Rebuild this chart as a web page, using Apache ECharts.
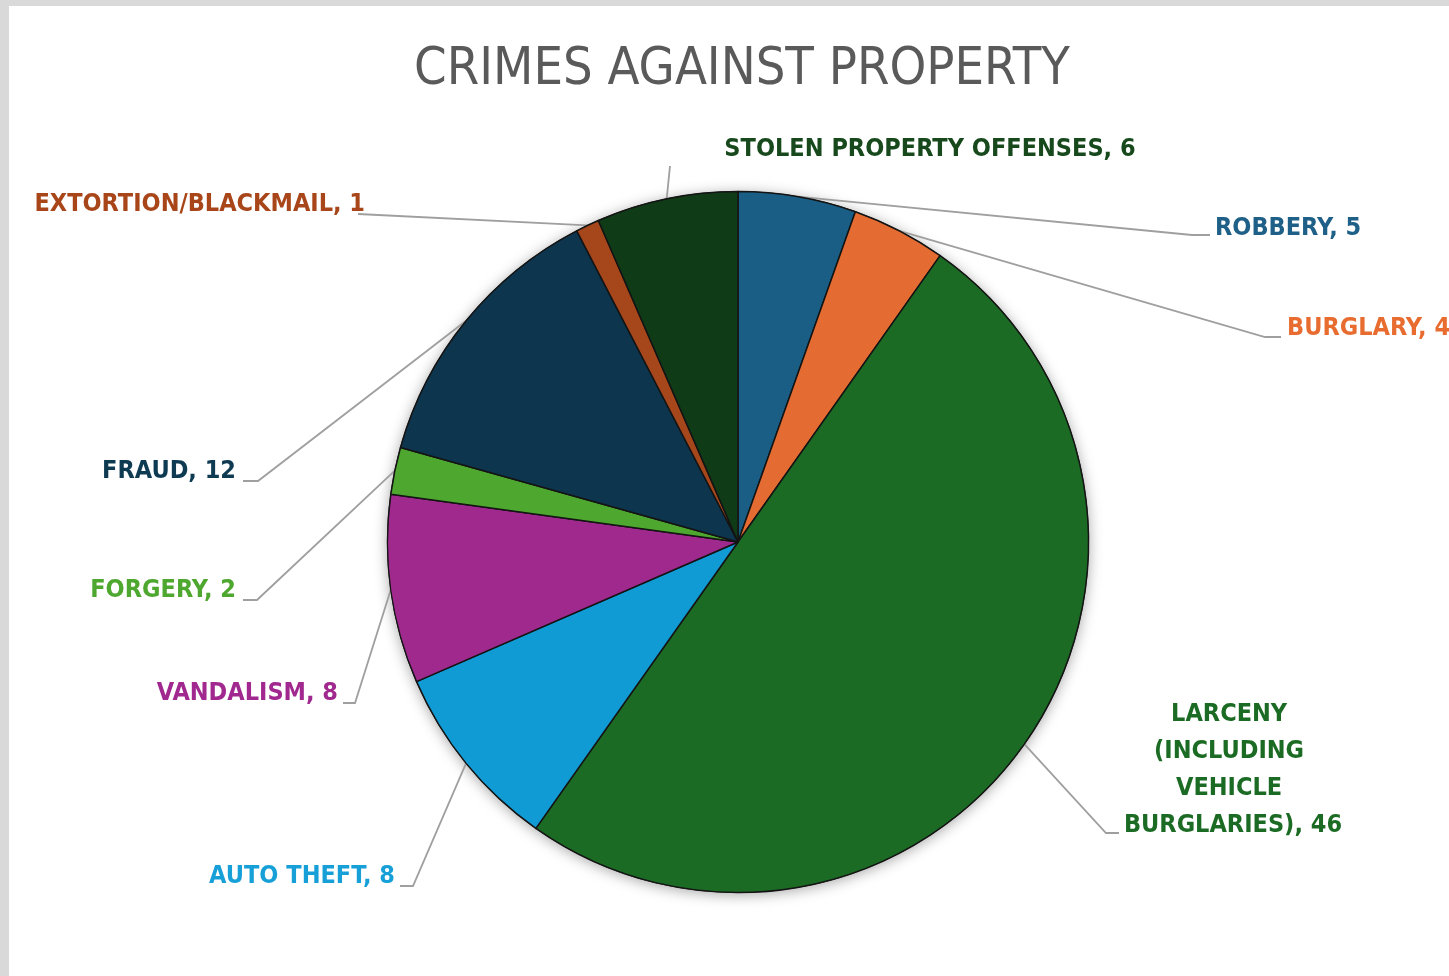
<!DOCTYPE html>
<html>
<head>
<meta charset="utf-8">
<script src="https://cdn.jsdelivr.net/npm/echarts@6/dist/echarts.min.js"></script>
<style>
  html, body { margin: 0; padding: 0; background: #ffffff; }
  #chart { position: absolute; left: 0; top: 0; width: 1449px; height: 976px; background: #ffffff; }
  .bar-top { position: absolute; left: 0; top: 0; width: 1449px; height: 6px; background: #d9d9d9; z-index: 5; }
  .bar-left { position: absolute; left: 0; top: 0; width: 9px; height: 976px; background: #d9d9d9; z-index: 5; }
</style>
</head>
<body>
<div id="chart"></div>
<div class="bar-top"></div>
<div class="bar-left"></div>
<script>
// ---- data ----
const categories = [
  'ROBBERY',
  'BURGLARY',
  'LARCENY (INCLUDING VEHICLE BURGLARIES)',
  'AUTO THEFT',
  'VANDALISM',
  'FORGERY',
  'FRAUD',
  'EXTORTION/BLACKMAIL',
  'STOLEN PROPERTY OFFENSES'
];
const values = [5, 4, 46, 8, 8, 2, 12, 1, 6];
const titleText = 'CRIMES AGAINST PROPERTY';

// ---- styles ----
const sliceColors = ['#1a5e85', '#e46c32', '#1c6b24', '#119bd4', '#a0298e', '#4ea72e', '#0d354e', '#a5461b', '#0f3b17'];
const labelColors = ['#1f6088', '#e86c30', '#1c6b24', '#17a0d8', '#a0288e', '#4ea72e', '#0e3a52', '#a8461a', '#17491d'];

// label placement (manual layout like the original), page pixels
const labelPlaces = [
  { x: 1215, y: 228, align: 'left',   tail: [[1192, 235], [1210, 235]] },
  { x: 1287, y: 328, align: 'left',   tail: [[1265, 337], [1281, 337]] },
  { x: 1233, y: 770, align: 'center', tail: [[1106, 833], [1119, 833]] },
  { x: 395,  y: 876, align: 'right',  tail: [[413, 886], [400, 886]] },
  { x: 338,  y: 693, align: 'right',  tail: [[355, 703], [343, 703]] },
  { x: 236,  y: 590, align: 'right',  tail: [[257, 600], [243, 600]] },
  { x: 236,  y: 471, align: 'right',  tail: [[258, 481], [243, 481]] },
  { x: 365,  y: 204, align: 'right',  tail: [[358, 214]] },
  { x: 930,  y: 149, align: 'center', tail: [[670, 166]] }
];

const PIE_CENTER = [738, 542];
const PIE_RADIUS = 351;
const LABEL_FONT = '"Liberation Sans Narrow", "DejaVu Sans Condensed", sans-serif';

const total = values.reduce((a, b) => a + b, 0);

const pieData = categories.map((name, i) => {
  const item = {
    name: name,
    value: values[i],
    itemStyle: { color: sliceColors[i] },
    label: { color: labelColors[i] }
  };
  if (i === 2) {
    item.label.width = 232;
    item.label.overflow = 'break';
    item.label.align = 'center';
    item.label.lineHeight = 37;
  }
  return item;
});

const chart = echarts.init(document.getElementById('chart'), null, { renderer: 'canvas' });

chart.setOption({
  backgroundColor: '#ffffff',
  animation: false,
  title: {
    text: titleText,
    left: 737,
    top: 39,
    textAlign: 'center',
    textStyle: {
      fontFamily: LABEL_FONT,
      fontWeight: 'normal',
      fontSize: 52,
      lineHeight: 52,
      color: '#5a5a5a'
    }
  },
  series: [
    {
      // shadow underlay for the whole pie
      type: 'pie',
      silent: true,
      center: PIE_CENTER,
      radius: PIE_RADIUS,
      label: { show: false },
      labelLine: { show: false },
      z: 1,
      itemStyle: {
        color: '#111111',
        shadowBlur: 14,
        shadowColor: 'rgba(0,0,0,0.35)',
        shadowOffsetX: 0,
        shadowOffsetY: 2
      },
      data: [{ name: 'all', value: total }]
    },
    {
      type: 'pie',
      center: PIE_CENTER,
      radius: PIE_RADIUS - 0.5,
      startAngle: 90,
      clockwise: true,
      avoidLabelOverlap: false,
      z: 2,
      itemStyle: {
        borderColor: '#141414',
        borderWidth: 1.5
      },
      label: {
        show: true,
        position: 'outside',
        formatter: '{b}, {c}',
        fontFamily: LABEL_FONT,
        fontWeight: 'bold',
        fontSize: 25,
        lineHeight: 30
      },
      labelLine: {
        show: true,
        length: 10,
        length2: 10,
        lineStyle: { color: '#9f9f9f', width: 1.8 }
      },
      labelLayout: function (params) {
        const p = labelPlaces[params.dataIndex];
        const start = params.labelLinePoints ? params.labelLinePoints[0] : null;
        const pts = start ? [start].concat(p.tail) : p.tail;
        return {
          x: p.x,
          y: p.y,
          align: p.align,
          verticalAlign: 'middle',
          labelLinePoints: pts
        };
      },
      data: pieData
    }
  ]
});
</script>
</body>
</html>
